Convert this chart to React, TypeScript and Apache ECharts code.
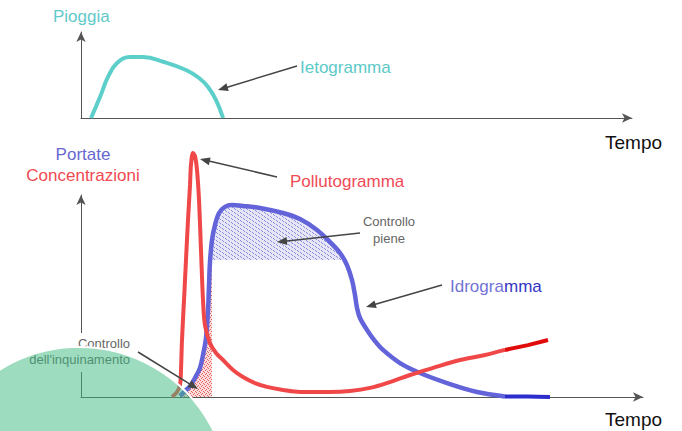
import React, { useEffect, useRef } from "react";
import * as echarts from "echarts";

// ---- Data (time in arbitrary units, values in % of axis height) ----
// Top panel: Ietogramma (rainfall)
const rainTime = [1.78, 3.38, 4.8, 6.41, 8.72, 11.03, 14.77, 18.68, 21.0, 22.6, 24.02, 25.27];
const rainValue = [0, 24.4, 47.7, 64.0, 70.9, 70.9, 65.1, 55.8, 46.5, 36.0, 20.9, 0];

// Bottom panel: Pollutogramma (concentration)
const pollTime = [16.19, 17.08, 17.62, 17.79, 17.97, 18.33, 18.68, 19.04, 19.4, 19.57, 19.93, 20.28, 20.64, 21.0, 21.35, 21.71, 22.06, 22.95, 24.02, 25.27, 27.05, 28.83, 30.96, 33.1, 35.94, 38.97, 44.31, 47.86, 51.42, 54.98, 58.54, 62.63, 67.44, 71.89, 75.44];
const pollValue = [0, 2.48, 5.94, 13.37, 28.2, 48.0, 67.8, 87.6, 105.0, 114.9, 120.8, 119.3, 112.4, 97.5, 72.8, 48.0, 35.6, 26.7, 21.8, 18.3, 13.4, 9.9, 6.9, 5.0, 3.5, 2.5, 2.5, 3.0, 4.5, 7.4, 10.9, 14.4, 18.3, 20.8, 23.3];
const pollTailTime = [75.44, 79.54, 83.1];
const pollTailValue = [23.3, 25.7, 28.2];

// Bottom panel: Idrogramma (discharge)
const flowTime = [17.62, 18.51, 19.4, 20.28, 21.17, 21.71, 22.24, 22.6, 22.78, 22.95, 23.31, 23.84, 24.56, 25.62, 26.87, 28.83, 31.85, 35.94, 38.97, 41.99, 44.31, 46.09, 47.33, 48.22, 48.75, 49.11, 49.64, 50.89, 52.31, 53.74, 56.76, 60.32, 65.66, 70.46, 75.44];
const flowValue = [0.5, 3.0, 5.4, 9.4, 14.4, 20.8, 29.2, 43.1, 55.4, 66.8, 77.7, 85.1, 91.1, 94.1, 95.0, 94.6, 93.6, 91.1, 88.1, 82.7, 76.7, 71.3, 65.3, 57.9, 50.5, 44.1, 39.1, 33.2, 27.7, 23.3, 16.8, 11.9, 6.4, 2.5, 0.3];
const flowTailTime = [75.44, 79.54, 83.45];
const flowTailValue = [0.3, 0.2, 0];

// Thresholds
const floodThreshold = 67.8; // "Controllo piene"
const pollutionControlEnd = 23.31; // "Controllo dell'inquinamento"

const FONT = '"Liberation Sans", Arial, Helvetica, sans-serif';

const zip = (a: number[], b: number[]) => a.map((v, i) => [v, b[i]]);

function crossing(t: number[], v: number[], level: number, rising: boolean) {
  for (let i = 1; i < t.length; i++) {
    const a = v[i - 1], b = v[i];
    if (rising ? a < level && b >= level : a >= level && b < level) {
      const f = (level - a) / (b - a);
      return t[i - 1] + f * (t[i] - t[i - 1]);
    }
  }
  return t[t.length - 1];
}

function arrow(x1: number, y1: number, x2: number, y2: number, color = "#454545") {
  const dx = x2 - x1, dy = y2 - y1;
  const L = Math.hypot(dx, dy);
  const ux = dx / L, uy = dy / L;
  const hl = 10, hw = 4;
  const bx = x2 - ux * hl, by = y2 - uy * hl;
  return [
    { type: "line", z: 120, shape: { x1, y1, x2: bx + ux * 2, y2: by + uy * 2 }, style: { stroke: color, lineWidth: 1.5 } },
    {
      type: "polygon",
      z: 120,
      shape: { points: [[x2, y2], [bx - uy * hw, by + ux * hw], [bx + uy * hw, by - ux * hw]] },
      style: { fill: color },
    },
  ];
}

function text(x: number, y: number, t: string, fill: string, size: number, align = "left", z = 150) {
  return {
    type: "text",
    x,
    y,
    z,
    style: { text: t, fill, font: `${size}px ${FONT}`, align, verticalAlign: "middle" },
  };
}

function makePattern(w: number, h: number, bg: string, fg: string, dots: number[][]) {
  const c = document.createElement("canvas");
  c.width = w;
  c.height = h;
  const ctx = c.getContext("2d")!;
  ctx.fillStyle = bg;
  ctx.fillRect(0, 0, w, h);
  ctx.fillStyle = fg;
  dots.forEach(([x, y]) => ctx.fillRect(x, y, 1, 1));
  return { image: c.toDataURL(), repeat: "repeat", imageWidth: w, imageHeight: h };
}

export default function App() {
  const ref = useRef<HTMLDivElement>(null);

  useEffect(() => {
    if (!ref.current) return;
    const chart = echarts.init(ref.current, undefined, { renderer: "svg" });

    const riseT = crossing(flowTime, flowValue, floodThreshold, true);
    const fallT = crossing(flowTime, flowValue, floodThreshold, false);

    const floodArea: number[][] = [[riseT, floodThreshold]];
    flowTime.forEach((t, i) => {
      if (t > riseT && t < fallT) floodArea.push([t, flowValue[i]]);
    });
    floodArea.push([fallT, floodThreshold]);

    const pollArea: number[][] = [];
    flowTime.forEach((t, i) => {
      if (t < riseT) pollArea.push([t, flowValue[i]]);
    });
    pollArea.push([riseT, floodThreshold]);
    pollArea.push([pollutionControlEnd, floodThreshold]);

    const bluePattern = makePattern(6, 4, "#e6e6f7", "#8c8cdc", [[0, 0], [1, 1], [3, 2], [4, 3]]);
    const redPattern = makePattern(4, 4, "#f9dcdc", "#e46060", [[0, 0], [2, 1], [1, 2], [3, 3]]);

    const axisLine = {
      show: true,
      onZero: false,
      symbol: ["none", "arrow"],
      symbolSize: [7, 10],
      lineStyle: { color: "#555", width: 1 },
    };
    const hiddenParts = {
      axisTick: { show: false },
      axisLabel: { show: false },
      splitLine: { show: false },
    };

    const cyan = "#5dcfca";
    const red = "#f04848";
    const blue = "#6363da";
    const sm = 0.35;

    chart.setOption({
      animation: false,
      backgroundColor: "#ffffff",
      grid: [
        { left: 81, top: 32, width: 551, height: 86, containLabel: false },
        { left: 81, top: 195, width: 562, height: 202, containLabel: false },
      ],
      xAxis: [
        { type: "value", gridIndex: 0, min: 0, max: 98, axisLine, ...hiddenParts },
        { type: "value", gridIndex: 1, min: 0, max: 100, axisLine, ...hiddenParts },
      ],
      yAxis: [
        { type: "value", gridIndex: 0, min: 0, max: 100, axisLine, ...hiddenParts },
        { type: "value", gridIndex: 1, min: 0, max: 100, axisLine, ...hiddenParts },
      ],
      series: [
        {
          name: "Ietogramma",
          type: "line",
          xAxisIndex: 0,
          yAxisIndex: 0,
          data: zip(rainTime, rainValue),
          smooth: 0.45,
          symbol: "none",
          clip: false,
          lineStyle: { color: cyan, width: 4 },
          z: 5,
        },
        {
          name: "Controllo piene",
          type: "line",
          xAxisIndex: 1,
          yAxisIndex: 1,
          data: floodArea,
          smooth: sm,
          symbol: "none",
          clip: false,
          lineStyle: { width: 0, opacity: 0 },
          areaStyle: { origin: floodThreshold, color: bluePattern, opacity: 1 },
          z: 3,
        },
        {
          name: "Controllo inquinamento",
          type: "line",
          xAxisIndex: 1,
          yAxisIndex: 1,
          data: pollArea,
          smooth: sm,
          symbol: "none",
          clip: false,
          lineStyle: { width: 0, opacity: 0 },
          areaStyle: { origin: "start", color: redPattern, opacity: 1 },
          z: 3,
        },
        {
          name: "Idrogramma",
          type: "line",
          xAxisIndex: 1,
          yAxisIndex: 1,
          data: zip(flowTime, flowValue),
          smooth: sm,
          symbol: "none",
          clip: false,
          lineStyle: { color: blue, width: 4.5 },
          z: 5,
        },
        {
          name: "Idrogramma tail",
          type: "line",
          xAxisIndex: 1,
          yAxisIndex: 1,
          data: zip(flowTailTime, flowTailValue),
          smooth: 0.3,
          symbol: "none",
          clip: false,
          lineStyle: { color: "#2d2dcc", width: 4 },
          z: 5,
        },
        {
          name: "Pollutogramma",
          type: "line",
          xAxisIndex: 1,
          yAxisIndex: 1,
          data: zip(pollTime, pollValue),
          smooth: sm,
          symbol: "none",
          clip: false,
          lineStyle: { color: red, width: 4 },
          z: 6,
        },
        {
          name: "Pollutogramma tail",
          type: "line",
          xAxisIndex: 1,
          yAxisIndex: 1,
          data: zip(pollTailTime, pollTailValue),
          symbol: "none",
          clip: false,
          lineStyle: { color: "#e00c0c", width: 4 },
          z: 6,
        },
      ],
      graphic: [
        // white text box behind "Controllo dell'inquinamento"
        { type: "rect", z: 100, shape: { x: 20, y: 333, width: 118, height: 39 }, style: { fill: "#ffffff" } },
        text(53, 16, "Pioggia", "#62c9c9", 17),
        text(300, 67, "Ietogramma", "#5ccac8", 17),
        text(605, 142, "Tempo", "#111111", 19),
        text(83, 154, "Portate", "#6767cf", 17, "center"),
        text(83, 175, "Concentrazioni", "#f04a50", 17, "center"),
        text(290, 181, "Pollutogramma", "#f04a56", 17),
        text(389, 221, "Controllo", "#666666", 13, "center"),
        text(389, 238, "piene", "#666666", 13, "center"),
        text(450, 286, "Idrogra", "#7373d6", 17),
        text(504, 286, "mma", "#3535c6", 17),
        text(130, 343, "Controllo", "#666666", 13, "right"),
        text(130, 359, "dell'inquinamento", "#666666", 13, "right"),
        text(605, 419, "Tempo", "#111111", 19),
        ...arrow(297, 66, 218, 90),
        ...arrow(277, 177, 200, 159),
        ...arrow(360, 233, 277, 242),
        ...arrow(442, 285, 366, 307),
        ...arrow(138, 352, 198, 389),
        {
          type: "circle",
          z: 200,
          shape: { cx: 79, cy: 497, r: 150 },
          style: { fill: "rgba(60,185,128,0.5)", stroke: "#ffffff", lineWidth: 2 },
        },
      ],
    });

    return () => chart.dispose();
  }, []);

  return (
    <div
      ref={ref}
      style={{ position: "fixed", left: 0, top: 0, width: 682, height: 431, background: "#fff" }}
    />
  );
}
